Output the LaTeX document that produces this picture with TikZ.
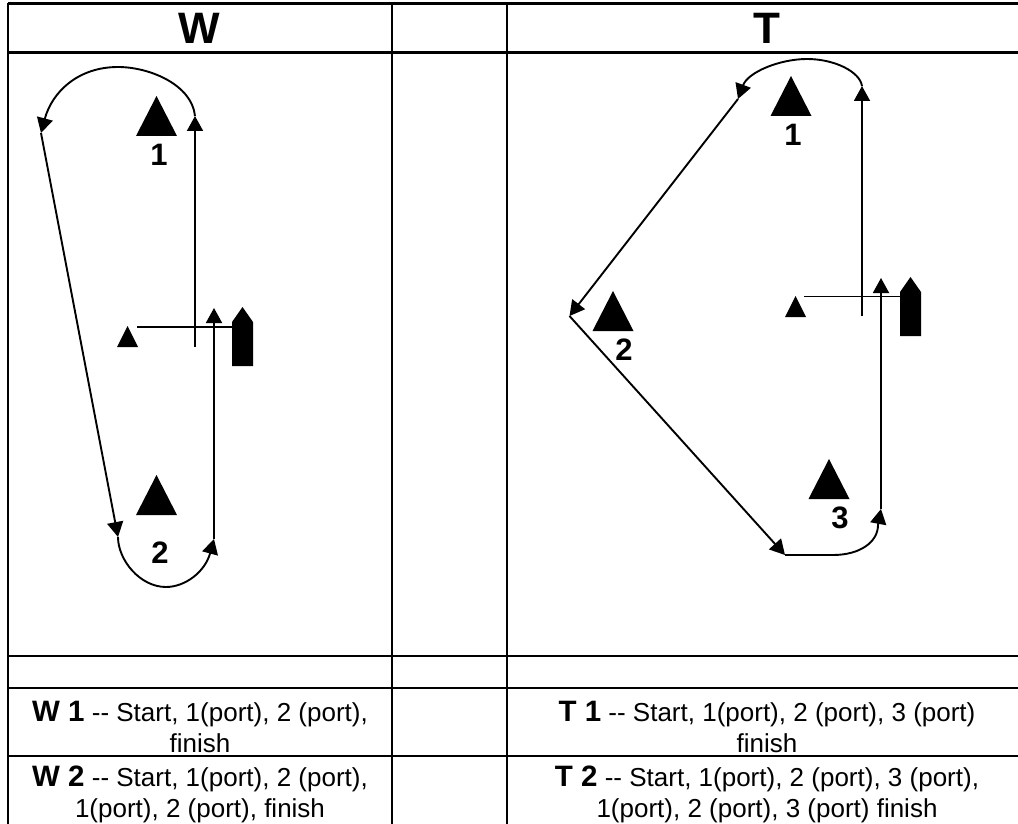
\documentclass[tikz,border=0pt]{standalone}
\usepackage{fontspec}
\setmainfont{Liberation Sans}
\usetikzlibrary{arrows.meta}
\tikzset{
  >={Triangle[length=15pt,width=16pt]},
  grid/.style={line width=2pt},
  route/.style={line width=1.9pt},
  head/.style={font=\fontsize{44}{44}\selectfont\bfseries, inner sep=0pt},
  num/.style={font=\fontsize{31}{31}\selectfont\bfseries, inner sep=0pt},
  cell/.style={font=\fontsize{26}{31}\selectfont, align=center, inner sep=0pt},
  buoy/.pic={\fill (-20.5,0) -- (0,-40) -- (20.5,0) -- cycle;},
  smallbuoy/.pic={\fill (-10.5,0) -- (0,-21) -- (10.5,0) -- cycle;},
  boat/.pic={\fill (0,0) -- (0,-44) -- (10.5,-59) -- (21,-44) -- (21,0) -- cycle;}
}
\newcommand{\tag}[1]{{\fontsize{29.5}{31}\selectfont\bfseries #1}}
\begin{document}
\begin{tikzpicture}[x=1pt,y=-1pt]
\useasboundingbox (0,0) rectangle (1018,824);
% table
\draw [line width=3pt] (8,4) -- (1018,4);
\draw [line width=3pt] (8,52.5) -- (1018,52.5);
\draw [grid] (8,656) -- (1018,656);
\draw [grid] (8,687.5) -- (1018,687.5);
\draw [grid] (8,756) -- (1018,756);
\draw [grid] (8,3) -- (8,824);
\draw [grid] (391.5,3) -- (391.5,824);
\draw [grid] (507,3) -- (507,824);
\node [head] (headW) at (199,28) {W};
\node [head] (headT) at (767,28) {T};
\node [cell] (w1) at (200,727) {\tag{W 1} {-}{-} Start, 1(port), 2 (port),\\finish};
\node [cell] (w2) at (200,794) {\tag{W 2} {-}{-} Start, 1(port), 2 (port),\\1(port), 2 (port), finish};
\node [cell] (t1) at (767,727) {\tag{T 1} {-}{-} Start, 1(port), 2 (port), 3 (port)\\finish};
\node [cell] (t2) at (767,794) {\tag{T 2} {-}{-} Start, 1(port), 2 (port), 3 (port),\\1(port), 2 (port), 3 (port) finish};
% W course
\pic at (156.5,136) {buoy};
\pic at (156.5,515) {buoy};
\pic at (127.5,347) {smallbuoy};
\pic at (232,366) {boat};
\node [num] (w1num) at (159,155) {1};
\node [num] (w2num) at (160,553) {2};
\coordinate (wstartA) at (137,327);
\coordinate (wstartB) at (232,327);
\coordinate (wupA) at (195,347);
\coordinate (wupB) at (195,116);
\coordinate (wleftA) at (41,133);
\coordinate (wleftB) at (118,537);
\coordinate (wlastA) at (214,539);
\coordinate (wlastB) at (214,308);
\draw [route] (wstartA) -- (wstartB);
\draw [route, ->] (wupA) -- (wupB);
\draw [route, ->] (wupB) .. controls (192,85) and (150,67) .. (118,67) .. controls (78,67) and (52,92) .. (wleftA);
\draw [route, ->] (wleftA) -- (wleftB);
\draw [route, ->] (wleftB) .. controls (118,560) and (140,587) .. (166,587) .. controls (185,587) and (205,572) .. (wlastA);
\draw [route, ->] (wlastA) -- (wlastB);
% T course
\pic at (791,116) {buoy};
\pic at (613,331) {buoy};
\pic at (829,499) {buoy};
\pic at (795.5,317) {smallbuoy};
\pic at (900,336) {boat};
\node [num] (t1num) at (793,135) {1};
\node [num] (t2num) at (624,350) {2};
\node [num] (t3num) at (840,518) {3};
\coordinate (tstartA) at (804,296.5);
\coordinate (tstartB) at (900,296.5);
\coordinate (tupA) at (862,316);
\coordinate (tupB) at (862,86);
\coordinate (tleftA) at (738,99);
\coordinate (tleftB) at (569.5,316);
\coordinate (tdownB) at (785,555);
\coordinate (tlastA) at (881,509);
\coordinate (tlastB) at (881,278);
\draw [route] (tstartA) -- (tstartB);
\draw [route, ->] (tupA) -- (tupB);
\draw [route, ->] (tupB) .. controls (860,72) and (835,59) .. (807,59) .. controls (780,59) and (748,72) .. (tleftA);
\draw [route, ->] (tleftA) -- (tleftB);
\draw [route, ->] (tleftB) -- (tdownB);
\draw [route, ->] (tdownB) -- (833,555) .. controls (860,555) and (878,542) .. (878,525) -- (tlastA);
\draw [route, ->] (tlastA) -- (tlastB);
\end{tikzpicture}
\end{document}
